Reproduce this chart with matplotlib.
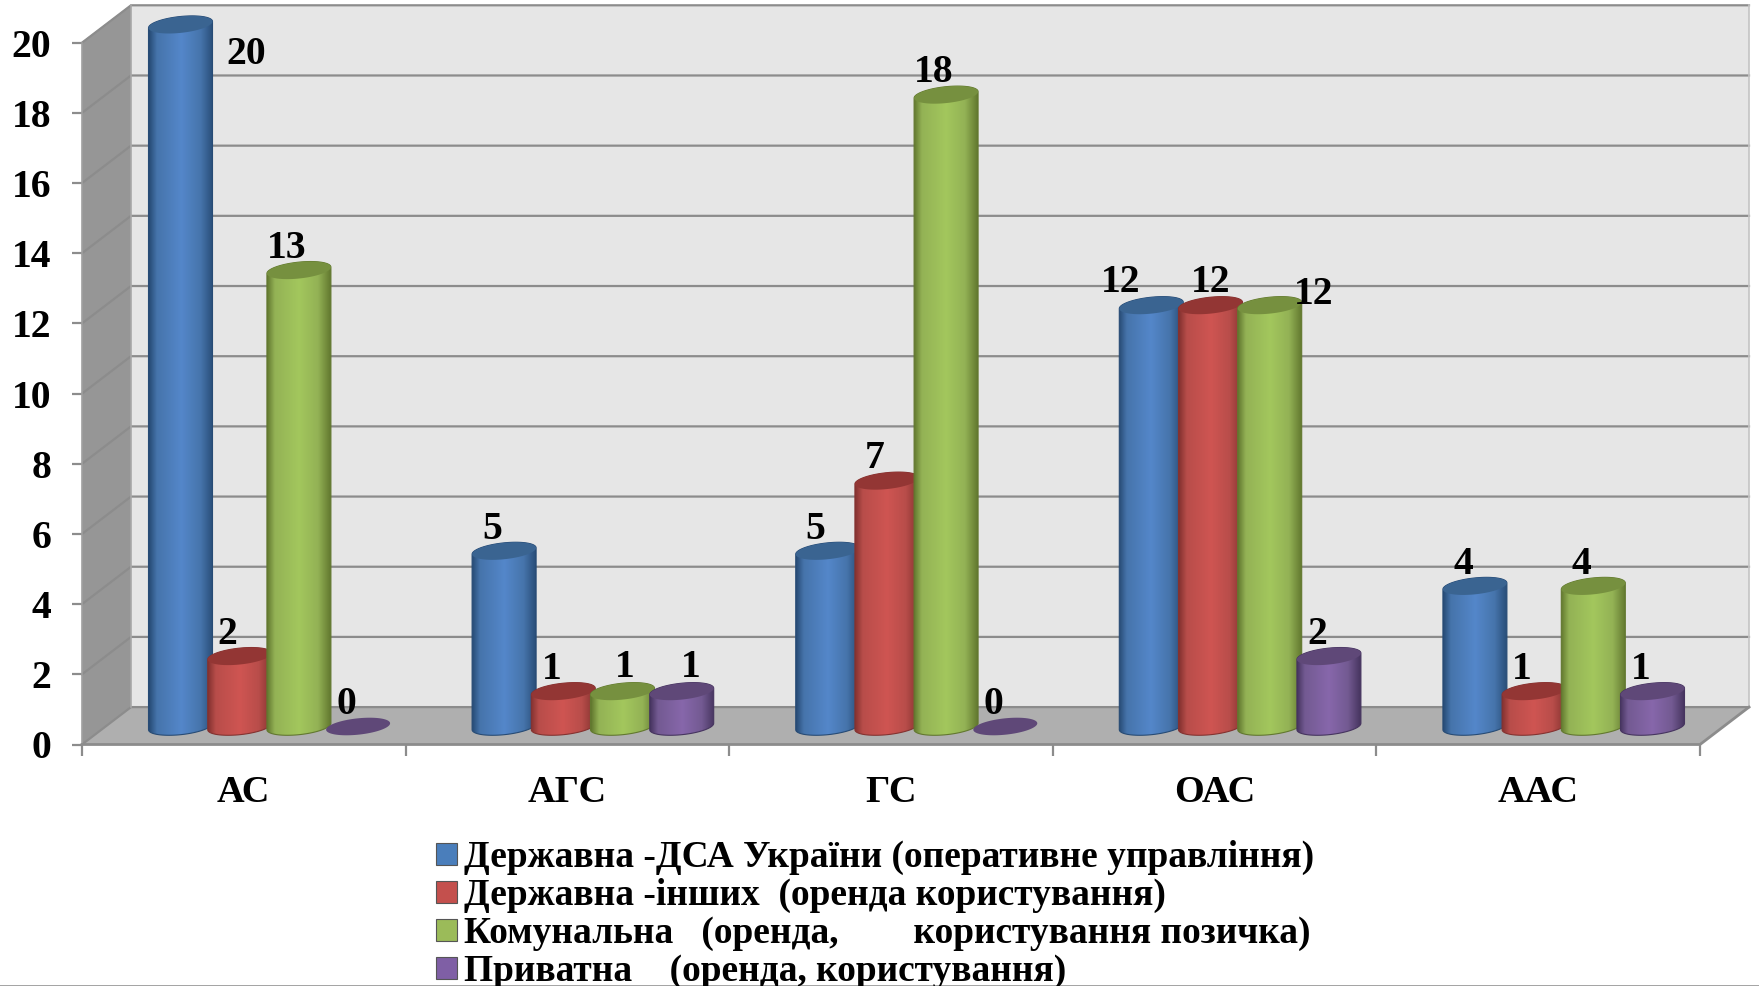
import numpy as np
import matplotlib
matplotlib.use("Agg")
import matplotlib.pyplot as plt
from matplotlib.colors import LinearSegmentedColormap
from matplotlib.patches import Patch, PathPatch
from matplotlib.path import Path

plt.rcParams["font.family"] = ["Liberation Serif", "DejaVu Serif"]
plt.rcParams["font.weight"] = "bold"

categories = ["АС", "АГС", "ГС", "ОАС", "ААС"]
series_names = [
    "Державна -ДСА України (оперативне управління)",
    "Державна -інших  (оренда користування)",
    "Комунальна   (оренда,        користування позичка)",
    "Приватна    (оренда, користування)",
]
derzh_dsa = [20, 5, 5, 12, 4]
derzh_other = [2, 1, 7, 12, 1]
komunal = [13, 1, 18, 12, 4]
pryvat = [0, 1, 0, 2, 1]
series = [derzh_dsa, derzh_other, komunal, pryvat]

# edge, mid, bright, top of each cylinder
palette = [
    ("#274b75", "#4674ab", "#5487ca", "#3a6491"),
    ("#843230", "#b84d4a", "#cf5552", "#933634"),
    ("#62782f", "#93b255", "#a3c75d", "#76903f"),
    ("#46345f", "#735a92", "#8767ab", "#5f4878"),
]
legend_colors = ["#4a7ebb", "#c4504d", "#9bbb59", "#7f5fa5"]

W, H = 1759, 986
LEFT, RIGHT, Y0, Y20 = 82, 1700, 744.5, 42.7
PX = (RIGHT - LEFT) / 5      # pixels per category
PY = (Y0 - Y20) / 20         # pixels per value unit
DEPTH_X, DEPTH_Y = 49 / PX, 37.4 / PY
GRID = "#8c8c8c"

fig = plt.figure(figsize=(W / 100, H / 100), dpi=100, facecolor="white")
ax = fig.add_axes([LEFT / W, 1 - Y0 / H, (RIGHT - LEFT) / W, (Y0 - Y20) / H])
ax.patch.set_visible(False)
for s in ax.spines.values():
    s.set_visible(False)

# walls and floor
top = 20 + 0.02
ax.fill([0, DEPTH_X, DEPTH_X, 0], [0, DEPTH_Y, top + DEPTH_Y, top], color="#969696", lw=0, clip_on=False, zorder=1)
ax.fill([DEPTH_X, 5 + DEPTH_X, 5 + DEPTH_X, DEPTH_X], [DEPTH_Y, DEPTH_Y, top + DEPTH_Y, top + DEPTH_Y],
        color="#e6e6e6", lw=0, clip_on=False, zorder=1)
ax.fill([0, 5, 5 + DEPTH_X, DEPTH_X], [0, 0, DEPTH_Y, DEPTH_Y], color="#afafaf", lw=0, clip_on=False, zorder=1)
for v in range(0, 21, 2):
    ax.plot([0, DEPTH_X, 5 + DEPTH_X], [v, v + DEPTH_Y, v + DEPTH_Y], color=GRID, lw=1.6, clip_on=False, zorder=2)
ax.plot([DEPTH_X, DEPTH_X], [DEPTH_Y, 20 + DEPTH_Y], color="#a8a8a8", lw=1.2, clip_on=False, zorder=2)
ax.plot([5 + DEPTH_X, 5 + DEPTH_X], [DEPTH_Y, 20 + DEPTH_Y], color="#c4c4c4", lw=1.2, clip_on=False, zorder=2)
ax.plot([0, 0], [0, 20], color="#a0a0a0", lw=1.2, clip_on=False, zorder=2)
ax.plot([0, 5, 5 + DEPTH_X], [0, 0, DEPTH_Y], color=GRID, lw=2, clip_on=False, zorder=2)


def ellipse(cx, cy, half_w, t):
    return cx + half_w * np.cos(t), cy + (8.2 * np.sin(t) + 3.2 * np.cos(t)) / PY


def cylinder(cx, value, half_w, colors, z):
    edge, mid, bright, cap = colors
    base = 18 / PY
    if value > 0:
        bx, by = ellipse(cx, base, half_w, np.linspace(np.pi, 2 * np.pi, 40))
        tx, ty = ellipse(cx, base + value, half_w, np.linspace(0, np.pi, 40))
        verts = np.column_stack([np.r_[bx, tx], np.r_[by, ty]])
        patch = PathPatch(Path(np.vstack([verts, verts[0]]), closed=True), fc="none", ec=edge, lw=0.8,
                          clip_on=False, zorder=z + 0.2)
        ax.add_patch(patch)
        cmap = LinearSegmentedColormap.from_list(
            "c", [(0, edge), (0.12, mid), (0.5, bright), (0.8, mid), (1, edge)])
        im = ax.imshow(np.linspace(0, 1, 128)[None, :], cmap=cmap, aspect="auto", interpolation="bilinear",
                       extent=(cx - half_w, cx + half_w, by.min(), ty.max()), zorder=z)
        im.set_clip_box(fig.bbox)
        im.set_clip_path(patch)
    ex, ey = ellipse(cx, base + value, half_w, np.linspace(0, 2 * np.pi, 80))
    ax.fill(ex, ey, color=cap, lw=0, clip_on=False, zorder=z + 0.3)
    return cx, base + value


# label shifts in pixels that differ from the usual spot, keyed by (category, series)
label_shift = {
    (0, 0): (78, -52), (1, 2): (14, 2), (1, 3): (21, 2),
    (3, 0): (-19, 1), (3, 1): (12, 1), (3, 2): (56, -11),
}
step, half_w = 59.2 / PX, 32 / PX
z = 5
for i in range(len(categories)):
    for j, values in enumerate(series):
        cx = i + 0.5 + (j - 1.5) * step + DEPTH_X / 2 + 1 / PX
        px, py = cylinder(cx, values[i], half_w, palette[j], z)
        z += 1
        sx, sy = label_shift.get((i, j), (0, 0))
        ax.annotate(str(values[i]), (px, py), xytext=(-12 + sx, 22 + sy), textcoords="offset pixels",
                    ha="center", va="center", fontsize=28.5, fontweight="bold", color="black",
                    zorder=200, annotation_clip=False)

ax.set_xlim(0, 5)
ax.set_ylim(0, 20)
ax.set_yticks(range(0, 21, 2))
ax.tick_params(axis="y", length=7.2, width=1.6, color=GRID, pad=15, labelsize=28.5)
ax.set_xticks(range(6))
ax.set_xticklabels([])
ax.tick_params(axis="x", which="major", length=8, width=1.6, color=GRID)
ax.set_xticks(np.arange(5) + 0.5, categories, minor=True)
ax.tick_params(axis="x", which="minor", length=0, pad=22, labelsize=27.5)

handles = [Patch(facecolor=c, edgecolor="#555555", linewidth=0.8) for c in legend_colors]
fig.legend(handles, series_names, loc="upper left", bbox_to_anchor=(436 / W, 1 - 840 / H), frameon=False,
           fontsize=26.9, handlelength=0.55, handleheight=0.55, handletextpad=0.2, labelspacing=0.08,
           borderpad=0, borderaxespad=0)

fig.add_artist(plt.Line2D([0, 1], [0.5 / H, 0.5 / H], color="#9a9a9a", lw=2))

fig.savefig("out.png", dpi=100)
